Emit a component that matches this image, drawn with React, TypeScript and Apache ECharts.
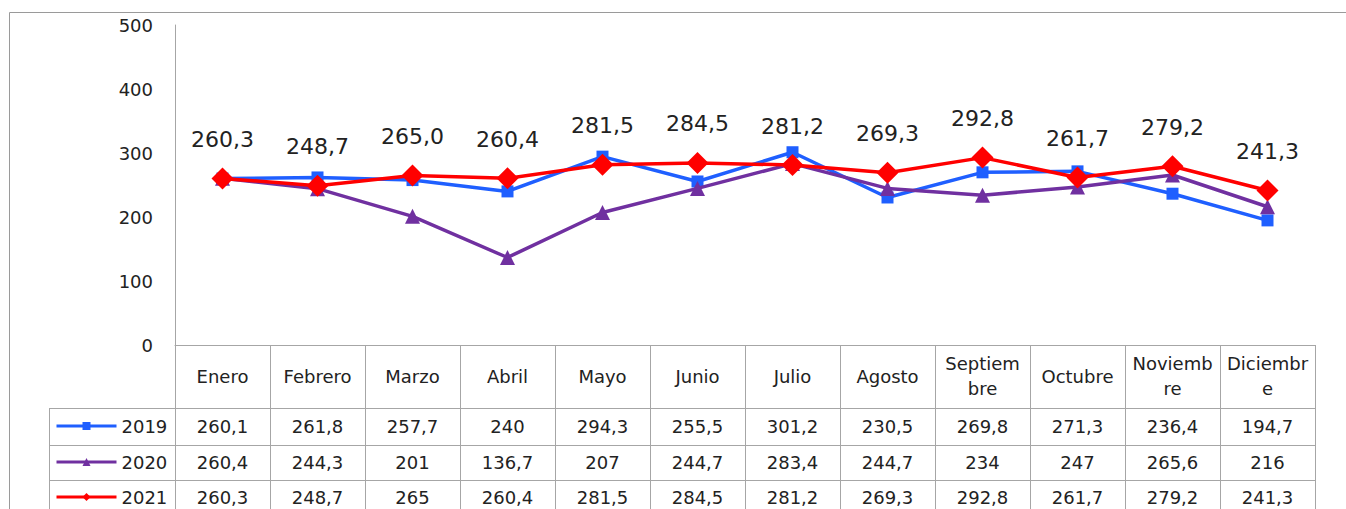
import React, { useEffect, useRef } from 'react';
import * as echarts from 'echarts';

const categories = ['Enero', 'Febrero', 'Marzo', 'Abril', 'Mayo', 'Junio', 'Julio', 'Agosto', 'Septiem\nbre', 'Octubre', 'Noviemb\nre', 'Diciembr\ne'];
const seriesNames = ['2019', '2020', '2021'];
const values2019 = [260.1, 261.8, 257.7, 240, 294.3, 255.5, 301.2, 230.5, 269.8, 271.3, 236.4, 194.7];
const values2020 = [260.4, 244.3, 201, 136.7, 207, 244.7, 283.4, 244.7, 234, 247, 265.6, 216];
const values2021 = [260.3, 248.7, 265, 260.4, 281.5, 284.5, 281.2, 269.3, 292.8, 261.7, 279.2, 241.3];
const yMin = 0;
const yMax = 500;
const yInterval = 100;

const colors = ['#1F5FFF', '#7030A0', '#FF0000'];
const symbols = ['rect', 'triangle', 'diamond'];
const symbolSizes = [12, 15, 22];

const FONT = "'DejaVu Sans', 'Liberation Sans', sans-serif";
const TEXT = '#222222';
const BORDER = '#A6A6A6';

const fmtTable = (v: number) => String(v).replace('.', ',');
const fmtLabel = (v: number) => v.toFixed(1).replace('.', ',');

export default function App() {
  const ref = useRef<HTMLDivElement>(null);
  useEffect(() => {
    document.body.style.margin = '0';
    if (!ref.current) return;
    const chart = echarts.init(ref.current, null, { renderer: 'svg' });

    const gridLeft = 175;
    const gridRight = 1315;
    const gridTop = 25;
    const gridBottom = 345;
    const legendLeft = 49;
    const rowLines = [408, 445, 480];
    const rowOffsets = [81, 117, 152];
    const rowCenters = rowOffsets.map((o) => gridBottom + o);
    const allValues = [values2019, values2020, values2021];

    const tableAxes = allValues.map((vals, i) => ({
      type: 'category',
      gridIndex: 0,
      position: 'bottom',
      offset: rowOffsets[i],
      data: vals.map(fmtTable),
      axisLine: { show: false },
      axisTick: { show: false },
      axisLabel: {
        interval: 0,
        margin: 0,
        verticalAlign: 'middle',
        fontSize: 18,
        fontFamily: FONT,
        color: TEXT,
      },
    }));

    const lineGraphics: any[] = rowLines.map((y) => ({
      type: 'line',
      shape: { x1: legendLeft, y1: y + 0.5, x2: gridRight, y2: y + 0.5 },
      style: { stroke: BORDER, lineWidth: 1 },
      silent: true,
    }));
    lineGraphics.push({
      type: 'line',
      shape: { x1: legendLeft + 0.5, y1: rowLines[0], x2: legendLeft + 0.5, y2: 520 },
      style: { stroke: BORDER, lineWidth: 1 },
      silent: true,
    });
    lineGraphics.push({
      type: 'rect',
      shape: { x: 9.5, y: 12.5, width: 1500, height: 700 },
      style: { stroke: '#9A9A9A', fill: 'none', lineWidth: 1 },
      silent: true,
    });

    const legends = seriesNames.map((name, i) => ({
      data: [name],
      orient: 'horizontal',
      left: 55,
      top: rowCenters[i] - 10,
      padding: 0,
      itemWidth: 60,
      itemHeight: 10,
      itemGap: 0,
      selectedMode: false,
      lineStyle: { width: 3 },
      textStyle: { fontSize: 18, lineHeight: 20, fontFamily: FONT, color: TEXT },
    }));

    chart.setOption({
      animation: false,
      backgroundColor: '#ffffff',
      grid: {
        left: gridLeft,
        top: gridTop,
        width: gridRight - gridLeft,
        height: gridBottom - gridTop,
        containLabel: false,
        outerBoundsMode: 'none',
      },
      legend: legends,
      xAxis: [
        {
          type: 'category',
          data: categories,
          boundaryGap: true,
          position: 'bottom',
          axisLine: { show: true, lineStyle: { color: BORDER, width: 1 } },
          axisTick: { show: true, length: 175, interval: 0, lineStyle: { color: BORDER, width: 1 } },
          axisLabel: {
            interval: 0,
            margin: 31,
            verticalAlign: 'middle',
            lineHeight: 25,
            fontSize: 18,
            fontFamily: FONT,
            color: TEXT,
          },
        },
        ...tableAxes,
      ],
      yAxis: {
        type: 'value',
        min: yMin,
        max: yMax,
        interval: yInterval,
        axisLine: { show: true, lineStyle: { color: BORDER, width: 1 } },
        axisTick: { show: false },
        splitLine: { show: false },
        axisLabel: { margin: 22, fontSize: 18, fontFamily: FONT, color: TEXT },
      },
      series: allValues.map((vals, i) => ({
        name: seriesNames[i],
        type: 'line',
        xAxisIndex: 0,
        data: vals,
        symbol: symbols[i],
        symbolSize: symbolSizes[i],
        showAllSymbol: true,
        lineStyle: { color: colors[i], width: 3.5 },
        itemStyle: { color: colors[i] },
        z: 2 + i,
        label:
          i === 2
            ? {
                show: true,
                position: 'top',
                distance: 17,
                fontSize: 22,
                fontFamily: FONT,
                color: TEXT,
                formatter: (p: any) => fmtLabel(p.value),
              }
            : { show: false },
      })),
      graphic: lineGraphics,
    });

    return () => chart.dispose();
  }, []);

  return <div ref={ref} style={{ width: 1346, height: 509 }} />;
}
